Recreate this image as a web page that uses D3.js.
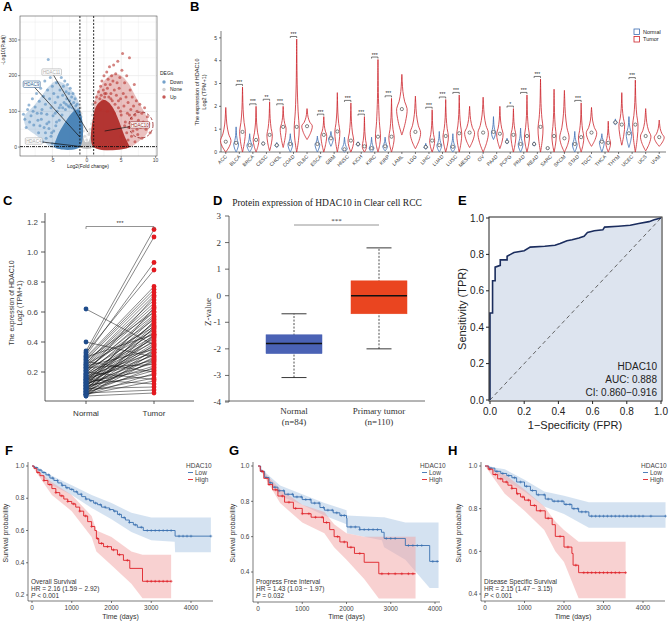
<!DOCTYPE html>
<html>
<head>
<meta charset="utf-8">
<script src="https://d3js.org/d3.v7.min.js"></script>
<style>
  body { margin: 0; background: #fff; }
</style>
</head>
<body>
<script>
// ---------------- data ----------------
// A: volcano (log2FC, -log10 padj)
var volcanoDown = [[-9.2,92],[-9.0,78],[-8.6,105],[-8.4,118],[-8.1,88],[-7.9,135],[-7.7,62],[-7.5,112],[-7.3,150],[-7.2,95],[-7.0,40],[-6.9,128],[-6.7,165],[-6.6,78],[-6.5,105],[-6.3,142],[-6.2,55],[-6.1,185],[-6.0,120],[-5.8,92],[-5.7,160],[-5.6,245],[-5.5,70],[-5.4,135],[-5.3,195],[-5.2,110],[-5.1,40],[-5.0,170],[-4.9,88],[-4.8,150],[-4.7,205],[-4.6,125],[-4.5,60],[-4.4,180],[-4.3,100],[-4.2,140],[-4.1,215],[-4.0,75],[-3.9,160],[-3.8,118],[-3.7,195],[-3.6,90],[-3.5,145],[-3.4,170],[-3.3,125],[-3.2,185],[-3.1,105],[-3.0,155],[-2.9,135],[-2.8,175],[-2.7,115],[-2.6,150],[-2.5,130],[-2.4,165],[-2.3,120],[-2.2,140],[-2.1,110],[-2.0,150],[-1.9,125],[-1.8,105],[-1.7,135],[-1.6,115],[-1.5,100],[-1.4,120],[-1.3,95],[-1.2,105],[-1.1,85],[-5.9,25],[-6.4,15],[-7.4,20],[-8.8,55],[-5.0,10],[-3.5,110],[-4.6,95],[-5.5,52],[-6.8,60],[-8.3,70],[-7.8,100],[-5.2,30],[-4.8,45],[-6.0,40],[-3.0,120],[-2.5,112],[-4.0,110],[-6.6,95],[-7.1,75],[-5.8,65],[-4.4,70]];
var volcanoUp = [[1.2,125],[1.4,140],[1.6,110],[1.7,155],[1.9,135],[2.0,170],[2.1,145],[2.2,185],[2.3,130],[2.4,160],[2.5,200],[2.6,140],[2.7,175],[2.8,150],[2.9,210],[3.0,165],[3.1,190],[3.2,140],[3.3,225],[3.4,175],[3.5,150],[3.6,200],[3.7,130],[3.8,185],[3.9,230],[4.0,160],[4.1,120],[4.2,205],[4.3,145],[4.4,180],[4.5,240],[4.6,110],[4.7,165],[4.8,195],[4.9,135],[5.0,90],[5.1,215],[5.2,262],[5.3,150],[5.4,115],[5.5,180],[5.6,70],[5.7,140],[5.8,200],[5.9,95],[6.0,125],[6.1,55],[6.2,250],[6.3,160],[6.4,105],[6.5,80],[6.6,140],[6.7,45],[6.8,115],[6.9,175],[7.0,90],[7.1,60],[7.2,130],[7.3,100],[7.4,35],[7.5,75],[7.7,120],[7.8,55],[8.0,95],[8.2,70],[8.4,110],[8.6,50],[8.8,85],[9.0,65],[9.2,40],[6.0,20],[5.0,30],[7.0,15],[8.0,25],[3.0,100],[4.0,95],[2.0,105],[6.5,30],[5.5,60],[6.2,90],[4.6,130],[3.5,135],[2.6,150],[5.8,40],[7.3,50],[4.9,100]];
var volcanoNone = [[-0.9,70],[-0.8,85],[-0.7,60],[-0.5,45],[-0.3,30],[0.0,20],[0.3,35],[0.5,50],[0.7,65],[0.8,90],[0.9,75],[-0.95,110],[0.95,105],[-0.6,55],[0.4,40],[0.85,120],[-0.85,95],[0.1,12],[-0.1,10]];
// outlines of the saturated cores and of the lighter halo around them
var coreDown = [[-1,0],[-1,100],[-1.6,104],[-2.2,95],[-2.8,80],[-3.4,62],[-4,42],[-4.4,24],[-4.7,0]];
var coreUp = [[1,0],[1,90],[1.4,115],[2,128],[2.6,132],[3.2,125],[3.8,110],[4.4,86],[5,56],[5.5,30],[6,10],[6.2,0]];
var coreNone = [[-1,0],[-1,55],[-0.6,35],[-0.2,14],[0.2,14],[0.6,35],[1,55],[1,0]];
var haloDown = [[-1,0],[-1,110],[-1.5,140],[-2.5,165],[-3.5,180],[-4.5,185],[-5.5,170],[-6.5,145],[-7.5,120],[-8.5,100],[-9.1,85],[-8.8,55],[-7.5,35],[-6.2,15],[-5.2,0]];
var haloUp = [[1,0],[1,100],[1.3,140],[2,170],[3,195],[4,205],[5,200],[6,180],[7,145],[8,110],[8.9,75],[8.8,40],[7.8,20],[6.8,5],[6.4,0]];
var volcanoLabels = [
  {gene:"HDAC11", grp:"None", lx:-5.1, ly:210, gx:0.15, gy:42},
  {gene:"HDAC9",  grp:"Down", lx:-8.0, ly:176, gx:-1.0, gy:28},
  {gene:"HDAC4",  grp:"None", lx:-7.7, ly:17,  gx:-0.7, gy:1},
  {gene:"HDAC10", grp:"Up",   lx:7.7,  ly:62,  gx:2.6,  gy:45}
];
var volcanoXTicks = [-5, 0, 5, 10];
var volcanoYTicks = [0, 100, 200, 300];
var degGroups = ["Down", "None", "Up"];

// B: pan-cancer violins  [min, mode, max, median, peak]
var cancers = ["ACC","BLCA","BRCA","CESC","CHOL","COAD","DLBC","ESCA","GBM","HNSC","KICH","KIRC","KIRP","LAML","LGG","LIHC","LUAD","LUSC","MESO","OV","PAAD","PCPG","PRAD","READ","SARC","SKCM","STAD","TGCT","THCA","THYM","UCEC","UCS","UVM"];
var tumorViolin = [
  [0.0,0.5,1.95,0.45,1.0],[0.0,0.9,2.85,0.88,0.8],[0.0,0.55,2.0,0.53,0.8],[0.05,0.75,2.2,0.75,0.75],
  [0.2,1.05,2.0,1.1,0.8],[0.0,1.0,4.95,1.1,0.7],[0.55,1.15,1.9,1.13,1.0],[0.0,0.75,1.55,0.75,0.8],
  [0.0,0.9,2.6,0.9,0.7],[0.0,0.5,2.15,0.5,0.8],[0.0,0.25,1.55,0.25,0.6],[0.0,0.65,4.05,0.67,0.7],
  [0.0,0.65,2.35,0.67,0.75],[0.75,1.9,3.4,1.88,1.0],[0.15,0.85,2.45,0.88,1.0],[0.0,0.5,1.85,0.5,0.7],
  [0.0,0.7,2.3,0.7,0.75],[0.0,0.8,2.5,0.82,0.7],[0.2,0.85,2.0,0.85,0.95],[0.0,0.85,2.4,0.85,1.0],
  [0.15,0.8,2.0,0.8,0.9],[0.0,0.75,1.9,0.75,0.7],[0.0,0.7,2.5,0.7,0.7],[0.0,1.05,3.2,1.1,0.7],
  [0.0,0.7,2.75,0.7,0.6],[0.0,0.65,2.7,0.6,0.9],[0.0,0.65,2.15,0.65,0.75],[0.25,0.85,1.95,0.85,1.0],
  [0.0,0.4,1.35,0.4,0.65],[0.3,1.2,2.6,1.2,0.8],[0.0,1.2,3.15,1.2,0.75],[0.05,0.7,1.9,0.7,1.0],
  [0.25,0.65,1.4,0.65,0.95]
];
var normalViolin = [
  null,[0.0,0.35,1.1,0.4,0.7],[0.0,0.3,0.8,0.3,0.8],[0.3,0.37,0.45,0.37,0.5],
  [0.2,0.3,0.42,0.3,0.6],[0.0,0.35,0.8,0.35,0.7],null,[0.0,0.35,0.7,0.35,0.7],
  [0.25,0.6,0.9,0.6,0.7],[0.0,0.15,0.65,0.12,0.8],[0.25,0.35,0.45,0.35,0.6],[0.0,0.17,0.65,0.17,0.7],
  [0.05,0.25,0.65,0.25,0.7],null,null,[0.12,0.22,0.38,0.22,0.6],
  [0.0,0.3,0.9,0.3,0.7],[0.0,0.23,0.8,0.23,0.7],null,null,
  [0.55,0.85,1.55,0.88,0.6],[0.35,0.45,0.6,0.45,0.5],[0.0,0.35,1.05,0.35,0.7],[0.25,0.35,0.45,0.35,0.5],
  [0.12,0.17,0.22,0.17,0.5],null,[0.0,0.35,0.9,0.35,0.7],null,
  [0.0,0.45,0.8,0.45,0.7],[1.2,1.3,1.45,1.3,0.6],[0.2,0.82,1.55,0.82,0.8],null,
  null
];
var cancerSig = ["","***","***","**","***","***","","***","","***","***","***","***","","","***","***","***","","","","*","***","***","","","***","","","","***","",""];
var violinYTicks = [0,1,2,3,4,5];

// C: paired KIRC samples
var pairedNormal = [0.62,0.40,0.34,0.33,0.32,0.31,0.30,0.30,0.29,0.28,0.28,0.27,0.26,0.26,0.25,0.25,0.24,0.24,0.23,0.23,0.22,0.22,0.21,0.21,0.20,0.20,0.19,0.19,0.18,0.18,0.18,0.17,0.17,0.16,0.16,0.16,0.15,0.15,0.15,0.14,0.14,0.14,0.13,0.13,0.13,0.12,0.12,0.12,0.11,0.11,0.11,0.10,0.10,0.10,0.09,0.09,0.09,0.08,0.08,0.08,0.07,0.07,0.07,0.06,0.06,0.06,0.05,0.05,0.05,0.05,0.04,0.04];
var pairedTumor = [0.38,0.30,1.15,0.88,1.10,0.93,0.77,0.45,0.75,0.60,0.73,0.20,0.71,0.68,0.50,0.66,0.35,0.64,0.62,0.25,0.58,0.55,0.48,0.60,0.52,0.15,0.46,0.70,0.44,0.42,0.57,0.40,0.33,0.53,0.37,0.28,0.49,0.31,0.12,0.47,0.36,0.56,0.22,0.43,0.34,0.29,0.51,0.26,0.41,0.18,0.39,0.32,0.63,0.24,0.45,0.27,0.10,0.21,0.38,0.54,0.30,0.16,0.44,0.23,0.35,0.08,0.19,0.50,0.14,0.28,0.06,0.33];
var pairedYTicks = [0.2,0.4,0.6,0.8,1.0,1.2];

// D: CPTAC protein box plot  [whiskerLow, q1, median, q3, whiskerHigh]
var proteinGroups = ["Normal", "Primary tumor"];
var proteinN = ["(n=84)", "(n=110)"];
var proteinBox = [[-3.08,-2.18,-1.8,-1.47,-0.68],[-2.0,-0.68,0.0,0.56,1.8]];
var proteinYTicks = [-4,-3,-2,-1,0,1,2,3];

// E: ROC (FPR, TPR)
var rocPoints = [[0,0],[0,0.478],[0.015,0.478],[0.015,0.655],[0.03,0.655],[0.03,0.73],[0.06,0.74],[0.06,0.77],[0.1,0.77],[0.1,0.79],[0.12,0.8],[0.14,0.81],[0.2,0.82],[0.235,0.84],[0.32,0.845],[0.38,0.85],[0.41,0.86],[0.45,0.875],[0.48,0.88],[0.52,0.89],[0.55,0.9],[0.57,0.92],[0.61,0.93],[0.66,0.935],[0.67,0.95],[0.75,0.955],[0.82,0.96],[0.87,0.97],[0.93,0.98],[0.96,0.99],[1,1]];
var rocTicks = [0,0.2,0.4,0.6,0.8,1.0];

// F-H: Kaplan-Meier  [time, survival], CI [time, lower, upper]
var kmTimeTicks = [0,1000,2000,3000,4000];
var fLow = [[0,1],[60,0.99],[150,0.975],[250,0.96],[350,0.945],[450,0.925],[550,0.91],[650,0.895],[750,0.88],[850,0.865],[950,0.855],[1050,0.84],[1150,0.825],[1250,0.81],[1350,0.795],[1450,0.785],[1550,0.77],[1650,0.76],[1750,0.745],[1850,0.74],[1950,0.73],[2050,0.72],[2150,0.70],[2250,0.68],[2350,0.665],[2450,0.65],[2550,0.635],[2650,0.62],[2800,0.60],[3600,0.565],[4500,0.565]];
var fHigh = [[0,1],[50,0.985],[120,0.96],[200,0.94],[300,0.91],[400,0.885],[500,0.86],[600,0.835],[700,0.815],[800,0.795],[900,0.78],[1000,0.765],[1100,0.745],[1200,0.72],[1300,0.69],[1400,0.655],[1500,0.625],[1580,0.60],[1620,0.55],[1680,0.52],[1800,0.50],[2000,0.48],[2150,0.45],[2300,0.415],[2460,0.365],[2780,0.285],[3500,0.285]];
var fLowCI = [[0,1,1],[500,0.88,0.94],[1000,0.82,0.88],[1500,0.74,0.82],[2000,0.67,0.77],[2500,0.59,0.71],[3000,0.54,0.68],[3590,0.53,0.68],[3600,0.465,0.68],[4500,0.465,0.68]];
var fHighCI = [[0,1,1],[500,0.82,0.90],[1000,0.72,0.82],[1500,0.56,0.69],[1620,0.47,0.60],[2000,0.385,0.56],[2500,0.27,0.47],[2780,0.18,0.45],[3500,0.18,0.45]];
var fLowCens = [100,200,300,420,520,640,760,880,1000,1120,1240,1360,1480,1600,1720,1840,1960,2080,2200,2320,2450,2600,2750,2900,3000,3100,3200,3300,3400,3500,3700,3800,3900,4000,4500];
var fHighCens = [150,300,450,600,750,900,1050,1200,1350,1500,1650,1750,1900,2050,2200,2400,2900,3000,3100,3200,3300,3400,3500];

var gLow = [[0,1],[60,0.97],[150,0.935],[250,0.905],[330,0.88],[450,0.86],[600,0.84],[800,0.825],[1000,0.81],[1200,0.79],[1400,0.765],[1500,0.75],[1700,0.735],[1850,0.72],[2000,0.705],[2010,0.655],[2300,0.64],[2790,0.625],[2850,0.59],[3330,0.55],[3880,0.46],[4080,0.46]];
var gHigh = [[0,1],[50,0.97],[130,0.93],[230,0.895],[330,0.865],[450,0.83],[600,0.795],[800,0.76],[1000,0.73],[1200,0.71],[1480,0.68],[1620,0.64],[1720,0.60],[1850,0.57],[2020,0.54],[2180,0.505],[2400,0.455],[2730,0.39],[3560,0.39]];
var gLowCI = [[0,1,1],[500,0.83,0.89],[1000,0.78,0.84],[1500,0.72,0.79],[2000,0.67,0.75],[2010,0.62,0.72],[2800,0.58,0.71],[2850,0.54,0.71],[3330,0.47,0.68],[3880,0.31,0.68],[4080,0.31,0.68]];
var gHighCI = [[0,1,1],[500,0.79,0.87],[1000,0.68,0.78],[1500,0.62,0.74],[1720,0.54,0.67],[2000,0.47,0.62],[2400,0.36,0.60],[2730,0.25,0.60],[3560,0.25,0.60]];
var gLowCens = [80,180,280,380,480,580,680,780,880,980,1080,1180,1280,1380,1480,1580,1680,1780,1880,1950,2100,2200,2300,2400,2500,2600,2700,2900,3000,3100,3400,3500,3600,3700,3950,4050];
var gHighCens = [100,250,400,550,700,850,1000,1150,1300,1450,1550,1800,1950,2100,2300,2800,2950,3100,3250,3400,3500];

var hLow = [[0,1],[100,0.99],[250,0.975],[400,0.965],[550,0.955],[680,0.945],[800,0.925],[1000,0.905],[1150,0.885],[1300,0.865],[1525,0.845],[1700,0.835],[2000,0.82],[2200,0.80],[2370,0.785],[2630,0.765],[4570,0.765]];
var hHigh = [[0,1],[80,0.985],[200,0.96],[320,0.94],[450,0.925],[580,0.91],[680,0.895],[800,0.87],[900,0.855],[1000,0.84],[1150,0.815],[1300,0.79],[1525,0.755],[1700,0.725],[1780,0.67],[2000,0.62],[2200,0.59],[2230,0.535],[2370,0.5],[3560,0.5]];
var hLowCI = [[0,1,1],[500,0.935,0.985],[1000,0.88,0.935],[1500,0.81,0.88],[2000,0.775,0.86],[2630,0.71,0.83],[4570,0.71,0.83]];
var hHighCI = [[0,1,1],[500,0.87,0.96],[1000,0.79,0.89],[1500,0.70,0.81],[1780,0.60,0.74],[2000,0.55,0.70],[2370,0.38,0.645],[3560,0.38,0.645]];
var hLowCens = [150,300,450,600,750,900,1050,1200,1350,1500,1600,1750,1850,1950,2050,2150,2250,2350,2450,2550,2700,2800,2900,3000,3100,3200,3300,3400,3500,3600,3700,3800,3900,4000,4200,4570];
var hHighCens = [120,260,400,540,680,820,960,1100,1250,1400,1600,1900,2100,2300,2500,2600,2700,2800,2900,3000,3100,3200,3300,3400,3560];

// ---------------- drawing ----------------
var SANS = "'Liberation Sans', Arial, sans-serif";
var SERIF = "'Liberation Serif', 'Times New Roman', serif";

var svg = d3.select("body").append("svg")
    .attr("width", 669).attr("height", 622)
    .style("font-family", SANS);

function letter(t, x, y) {
    svg.append("text").attr("x", x).attr("y", y).text(t)
        .style("font-weight", "bold").style("font-size", "13px");
}
letter("A", 3, 11); letter("B", 190, 11); letter("C", 3, 205); letter("D", 213, 205);
letter("E", 458, 205); letter("F", 5, 455); letter("G", 229, 455); letter("H", 448, 455);

// ===== A: volcano =====
var ax = d3.scaleLinear().domain([-9.7, 10.2]).range([20, 157]);
var ay = d3.scaleLinear().domain([-25, 367]).range([156, 16]);
var gA = svg.append("g");
var degColor = {Down: "#5089bd", None: "#c4c4c4", Up: "#b8302c"};
var coreColor = {Down: "#3e7bb3", None: "#bdbdbd", Up: "#ad2622"};

gA.append("rect").attr("x", 20).attr("y", 16).attr("width", 137).attr("height", 140).attr("fill", "#fff");
[-7.5, -2.5, 2.5, 7.5].concat(volcanoXTicks).forEach(function(v) {
    gA.append("line").attr("x1", ax(v)).attr("x2", ax(v)).attr("y1", 16).attr("y2", 156)
        .attr("stroke", "#ebebeb").attr("stroke-width", volcanoXTicks.indexOf(v) >= 0 ? 0.8 : 0.4);
});
[50, 150, 250, 350].concat(volcanoYTicks).forEach(function(v) {
    gA.append("line").attr("y1", ay(v)).attr("y2", ay(v)).attr("x1", 20).attr("x2", 157)
        .attr("stroke", "#ebebeb").attr("stroke-width", volcanoYTicks.indexOf(v) >= 0 ? 0.8 : 0.4);
});

var coreLine = d3.line().x(function(d) { return ax(d[0]); }).y(function(d) { return ay(d[1]); })
    .curve(d3.curveCatmullRomClosed);
gA.append("path").attr("d", coreLine(haloDown)).attr("fill", degColor.Down).attr("opacity", 0.3);
gA.append("path").attr("d", coreLine(haloUp)).attr("fill", degColor.Up).attr("opacity", 0.3);
[["None", coreNone, volcanoNone], ["Down", coreDown, volcanoDown], ["Up", coreUp, volcanoUp]].forEach(function(g) {
    gA.append("path").attr("d", coreLine(g[1])).attr("fill", coreColor[g[0]]).attr("opacity", 0.9);
    gA.selectAll(null).data(g[2]).enter().append("circle")
        .attr("cx", function(d) { return ax(d[0]); })
        .attr("cy", function(d) { return ay(d[1]); })
        .attr("r", 1.5).attr("fill", degColor[g[0]]).attr("fill-opacity", 0.6);
});

// threshold lines
[-1, 1].forEach(function(v) {
    gA.append("line").attr("x1", ax(v)).attr("x2", ax(v)).attr("y1", 16).attr("y2", 156)
        .attr("stroke", "#111").attr("stroke-width", 0.9).attr("stroke-dasharray", "2,1.5");
});
gA.append("line").attr("x1", 20).attr("x2", 157).attr("y1", ay(1.3)).attr("y2", ay(1.3))
    .attr("stroke", "#111").attr("stroke-width", 0.9).attr("stroke-dasharray", "3,1,1,1");

// gene labels
var labelStroke = {Down: "#2d5e91", None: "#aaaaaa", Up: "#8e1b1b"};
volcanoLabels.forEach(function(l) {
    gA.append("line").attr("x1", ax(l.lx)).attr("y1", ay(l.ly)).attr("x2", ax(l.gx)).attr("y2", ay(l.gy))
        .attr("stroke", "#111").attr("stroke-width", 0.7);
});
volcanoLabels.forEach(function(l) {
    var w = l.gene.length * 2.6 + 4;
    gA.append("rect").attr("x", ax(l.lx) - w / 2).attr("y", ay(l.ly) - 3.2).attr("width", w).attr("height", 6.4)
        .attr("rx", 1).attr("fill", "#fff").attr("stroke", labelStroke[l.grp]).attr("stroke-width", 0.6);
    gA.append("text").attr("x", ax(l.lx)).attr("y", ay(l.ly) + 1.6).attr("text-anchor", "middle")
        .style("font-size", "4.5px").attr("fill", labelStroke[l.grp]).text(l.gene);
});
gA.append("ellipse").attr("cx", 141).attr("cy", 125).attr("rx", 12).attr("ry", 13)
    .attr("fill", "none").attr("stroke", "#8e1b1b").attr("stroke-width", 0.8).attr("stroke-dasharray", "3,2");

gA.append("rect").attr("x", 20).attr("y", 16).attr("width", 137).attr("height", 140)
    .attr("fill", "none").attr("stroke", "#333").attr("stroke-width", 0.5);

volcanoXTicks.forEach(function(v) {
    gA.append("line").attr("x1", ax(v)).attr("x2", ax(v)).attr("y1", 156).attr("y2", 158).attr("stroke", "#333").attr("stroke-width", 0.5);
    gA.append("text").attr("x", ax(v)).attr("y", 162).attr("text-anchor", "middle").style("font-size", "5px").attr("fill", "#444").text(v);
});
volcanoYTicks.forEach(function(v) {
    gA.append("line").attr("x1", 18).attr("x2", 20).attr("y1", ay(v)).attr("y2", ay(v)).attr("stroke", "#333").attr("stroke-width", 0.5);
    gA.append("text").attr("x", 17).attr("y", ay(v) + 1.7).attr("text-anchor", "end").style("font-size", "5px").attr("fill", "#444").text(v);
});
gA.append("text").attr("x", 88).attr("y", 168).attr("text-anchor", "middle").style("font-size", "5px").attr("fill", "#222").text("Log2(Fold change)");
gA.append("text").attr("transform", "translate(5,50) rotate(-90)").attr("text-anchor", "middle").style("font-size", "5px").attr("fill", "#222").text("-Log10(P.adj)");
gA.append("text").attr("x", 160).attr("y", 75).style("font-size", "5px").attr("fill", "#222").text("DEGs");
degGroups.forEach(function(g, i) {
    var yy = 82 + i * 7.5;
    gA.append("circle").attr("cx", 164).attr("cy", yy).attr("r", 1.7).attr("fill", degColor[g]).attr("fill-opacity", 0.8);
    gA.append("text").attr("x", 170).attr("y", yy + 1.7).style("font-size", "5px").attr("fill", "#222").text(g);
});

// ===== B: violins =====
var bx = d3.scaleBand().domain(cancers).range([219, 666]);
var by = d3.scaleLinear().domain([0, 5.3]).range([152, 31]);
var gB = svg.append("g");
gB.append("line").attr("x1", 221).attr("x2", 221).attr("y1", 31).attr("y2", 152).attr("stroke", "#222").attr("stroke-width", 0.6);
gB.append("line").attr("x1", 221).attr("x2", 666).attr("y1", 152).attr("y2", 152).attr("stroke", "#222").attr("stroke-width", 0.6);
violinYTicks.forEach(function(v) {
    gB.append("line").attr("x1", 219).attr("x2", 221).attr("y1", by(v)).attr("y2", by(v)).attr("stroke", "#222").attr("stroke-width", 0.6);
    gB.append("text").attr("x", 217).attr("y", by(v) + 1.8).attr("text-anchor", "end").style("font-size", "5px").attr("fill", "#333").text(v);
});
gB.append("text").attr("transform", "translate(199,92) rotate(-90)").attr("text-anchor", "middle").style("font-size", "5.5px").attr("fill", "#222").text("The expression of HDAC10");
gB.append("text").attr("transform", "translate(206,92) rotate(-90)").attr("text-anchor", "middle").style("font-size", "5.5px").attr("fill", "#222").text("Log2 (TPM+1)");

function violinProfile(v) {
    var mn = v[0], mo = v[1], mx = v[2];
    return [[mn, 0.02], [mn + (mo - mn) * 0.5, 0.7], [mo, 1], [mo + (mx - mo) * 0.2, 0.55],
            [mo + (mx - mo) * 0.5, 0.2], [mo + (mx - mo) * 0.8, 0.07], [mx, 0]];
}
function drawViolin(v, cx, hw, col) {
    var area = d3.area()
        .y(function(d) { return by(d[0]); })
        .x0(function(d) { return cx - d[1] * hw * v[4]; })
        .x1(function(d) { return cx + d[1] * hw * v[4]; })
        .curve(d3.curveCatmullRom);
    gB.append("path").attr("d", area(violinProfile(v))).attr("fill", "#fff")
        .attr("stroke", col).attr("stroke-width", 0.8);
    gB.append("circle").attr("cx", cx).attr("cy", by(v[3])).attr("r", 1.6)
        .attr("fill", "#fff").attr("stroke", "#333").attr("stroke-width", 0.6);
}
var tumorCol = "#cc2229", normalCol = "#3b6cb2";
cancers.forEach(function(c, i) {
    var cx = bx(c) + bx.bandwidth() / 2;
    var nv = normalViolin[i], tv = tumorViolin[i];
    if (nv) {
        drawViolin(nv, cx - 3.2, 3.4, normalCol);
        drawViolin(tv, cx + 3.2, 3.6, tumorCol);
    } else {
        drawViolin(tv, cx, 5.2, tumorCol);
    }
    gB.append("line").attr("x1", cx).attr("x2", cx).attr("y1", 152).attr("y2", 154).attr("stroke", "#222").attr("stroke-width", 0.6);
    gB.append("text").attr("transform", "translate(" + (cx + 1.5) + ",157) rotate(-45)").attr("text-anchor", "end")
        .style("font-size", "5px").attr("fill", "#333").text(c);
    if (cancerSig[i]) {
        var top = Math.max(tv[2], nv ? nv[2] : 0);
        var yb = by(top) - 2.5;
        gB.append("path").attr("d", "M" + (cx - 3.2) + "," + (yb + 1.5) + "V" + yb + "H" + (cx + 3.2) + "V" + (yb + 1.5))
            .attr("fill", "none").attr("stroke", "#222").attr("stroke-width", 0.6);
        gB.append("text").attr("x", cx).attr("y", yb - 0.5).attr("text-anchor", "middle").style("font-size", "5px").attr("fill", "#222").text(cancerSig[i]);
    }
});
[["Normal", normalCol], ["Tumor", tumorCol]].forEach(function(l, i) {
    var yy = 29 + i * 7.5;
    gB.append("rect").attr("x", 634).attr("y", yy).attr("width", 5.5).attr("height", 5.5).attr("fill", "#fff").attr("stroke", l[1]).attr("stroke-width", 0.8);
    gB.append("text").attr("x", 643).attr("y", yy + 4.8).style("font-size", "5.5px").attr("fill", "#222").text(l[0]);
});

// ===== C: paired =====
var cx0 = d3.scalePoint().domain(["Normal", "Tumor"]).range([86, 154]);
var cy0 = d3.scaleLinear().domain([0, 1.2]).range([402, 222]);
var gC = svg.append("g");
gC.append("line").attr("x1", 45).attr("x2", 45).attr("y1", 213).attr("y2", 401).attr("stroke", "#333").attr("stroke-width", 0.8);
gC.append("line").attr("x1", 45).attr("x2", 194).attr("y1", 401).attr("y2", 401).attr("stroke", "#333").attr("stroke-width", 0.8);
pairedYTicks.forEach(function(v) {
    gC.append("line").attr("x1", 41).attr("x2", 45).attr("y1", cy0(v)).attr("y2", cy0(v)).attr("stroke", "#333").attr("stroke-width", 0.8);
    gC.append("text").attr("x", 38).attr("y", cy0(v) + 2.8).attr("text-anchor", "end").style("font-size", "8px").attr("fill", "#444").text(v.toFixed(1));
});
["Normal", "Tumor"].forEach(function(g) {
    gC.append("line").attr("x1", cx0(g)).attr("x2", cx0(g)).attr("y1", 401).attr("y2", 404).attr("stroke", "#333").attr("stroke-width", 0.8);
    gC.append("text").attr("x", cx0(g)).attr("y", 416).attr("text-anchor", "middle").style("font-size", "8px").attr("fill", "#333").text(g);
});
gC.append("text").attr("transform", "translate(14,303) rotate(-90)").attr("text-anchor", "middle").style("font-size", "7px").attr("fill", "#333").text("The expression of HDAC10");
gC.append("text").attr("transform", "translate(22,303) rotate(-90)").attr("text-anchor", "middle").style("font-size", "7px").attr("fill", "#333").text("Log2 (TPM+1)");
pairedNormal.forEach(function(v, i) {
    gC.append("line").attr("x1", cx0("Normal")).attr("y1", cy0(v)).attr("x2", cx0("Tumor")).attr("y2", cy0(pairedTumor[i]))
        .attr("stroke", "#111").attr("stroke-width", 0.5);
});
gC.selectAll(null).data(pairedNormal).enter().append("circle")
    .attr("cx", cx0("Normal")).attr("cy", function(d) { return cy0(d); }).attr("r", 2.4).attr("fill", "#1f4c8b");
gC.selectAll(null).data(pairedTumor).enter().append("circle")
    .attr("cx", cx0("Tumor")).attr("cy", function(d) { return cy0(d); }).attr("r", 2.4).attr("fill", "#e3191f");
gC.append("path").attr("d", "M86,229V226.5H154V229").attr("fill", "none").attr("stroke", "#666").attr("stroke-width", 0.7);
gC.append("text").attr("x", 120).attr("y", 224.5).attr("text-anchor", "middle").style("font-size", "6px").attr("fill", "#333").text("***");

// ===== D: protein box =====
var dx = d3.scalePoint().domain(proteinGroups).range([294, 379]);
var dy = d3.scaleLinear().domain([-4, 3]).range([402, 216]);
var gD = svg.append("g").style("font-family", SERIF);
gD.append("text").attr("x", 327).attr("y", 206).attr("text-anchor", "middle").style("font-size", "9.5px").attr("fill", "#222")
    .text("Protein expression of HDAC10 in Clear cell RCC");
gD.append("line").attr("x1", 229).attr("x2", 229).attr("y1", 216).attr("y2", 402).attr("stroke", "#444").attr("stroke-width", 0.8);
gD.append("line").attr("x1", 225).attr("x2", 425).attr("y1", 401).attr("y2", 401).attr("stroke", "#444").attr("stroke-width", 0.8);
proteinYTicks.forEach(function(v) {
    gD.append("line").attr("x1", 225).attr("x2", 229).attr("y1", dy(v)).attr("y2", dy(v)).attr("stroke", "#444").attr("stroke-width", 0.8);
    gD.append("text").attr("x", 221).attr("y", dy(v) + 3).attr("text-anchor", "end").style("font-size", "9px").attr("fill", "#333").text(v);
});
gD.append("text").attr("transform", "translate(211,312) rotate(-90)").attr("text-anchor", "middle").style("font-size", "9px").attr("fill", "#333").text("Z-value");
var boxFill = ["#4a62b5", "#ea4520"];
proteinGroups.forEach(function(g, i) {
    var b = proteinBox[i], c = dx(g);
    gD.append("line").attr("x1", c).attr("x2", c).attr("y1", dy(b[0])).attr("y2", dy(b[4]))
        .attr("stroke", "#222").attr("stroke-width", 0.8).attr("stroke-dasharray", "2,1.5");
    [b[0], b[4]].forEach(function(w) {
        gD.append("line").attr("x1", c - 12.5).attr("x2", c + 12.5).attr("y1", dy(w)).attr("y2", dy(w)).attr("stroke", "#222").attr("stroke-width", 0.9);
    });
    gD.append("rect").attr("x", c - 28).attr("y", dy(b[3])).attr("width", 56).attr("height", dy(b[1]) - dy(b[3]))
        .attr("fill", boxFill[i]).attr("stroke", boxFill[i]).attr("stroke-width", 0.5);
    gD.append("line").attr("x1", c - 28).attr("x2", c + 28).attr("y1", dy(b[2])).attr("y2", dy(b[2])).attr("stroke", "#111").attr("stroke-width", 1.6);
    gD.append("text").attr("x", c).attr("y", 414).attr("text-anchor", "middle").style("font-size", "9px").attr("fill", "#333").text(g);
    gD.append("text").attr("x", c).attr("y", 425).attr("text-anchor", "middle").style("font-size", "9px").attr("fill", "#333").text(proteinN[i]);
});
gD.append("line").attr("x1", dx("Normal")).attr("x2", dx("Primary tumor")).attr("y1", 225).attr("y2", 225).attr("stroke", "#888").attr("stroke-width", 0.9);
gD.append("text").attr("x", (dx("Normal") + dx("Primary tumor")) / 2).attr("y", 223).attr("text-anchor", "middle").style("font-size", "7px").attr("fill", "#333").text("***");

// ===== E: ROC =====
var ex = d3.scaleLinear().domain([0, 1]).range([490, 661]);
var ey = d3.scaleLinear().domain([0, 1]).range([400, 218]);
var gE = svg.append("g");
gE.append("path").attr("d", d3.area().x(function(d) { return ex(d[0]); }).y0(ey(0)).y1(function(d) { return ey(d[1]); })(rocPoints))
    .attr("fill", "#dde4ef");
gE.append("line").attr("x1", ex(0)).attr("y1", ey(0)).attr("x2", ex(1)).attr("y2", ey(1))
    .attr("stroke", "#555").attr("stroke-width", 0.9).attr("stroke-dasharray", "4,3");
gE.append("path").attr("d", d3.line().x(function(d) { return ex(d[0]); }).y(function(d) { return ey(d[1]); })(rocPoints))
    .attr("fill", "none").attr("stroke", "#1b2d5e").attr("stroke-width", 1.6);
gE.append("rect").attr("x", 489).attr("y", 217).attr("width", 173).attr("height", 184)
    .attr("fill", "none").attr("stroke", "#222").attr("stroke-width", 1);
rocTicks.forEach(function(v) {
    gE.append("line").attr("x1", 486).attr("x2", 489).attr("y1", ey(v)).attr("y2", ey(v)).attr("stroke", "#222");
    gE.append("text").attr("x", 484).attr("y", ey(v) + 3.5).attr("text-anchor", "end").style("font-size", "10px").attr("fill", "#222").text(v.toFixed(1));
    gE.append("line").attr("x1", ex(v)).attr("x2", ex(v)).attr("y1", 401).attr("y2", 404).attr("stroke", "#222");
    gE.append("text").attr("x", ex(v)).attr("y", 415).attr("text-anchor", "middle").style("font-size", "10px").attr("fill", "#222").text(v.toFixed(1));
});
gE.append("text").attr("x", 575).attr("y", 429).attr("text-anchor", "middle").style("font-size", "11px").attr("fill", "#222").text("1\u2212Specificity (FPR)");
gE.append("text").attr("transform", "translate(466,309) rotate(-90)").attr("text-anchor", "middle").style("font-size", "11px").attr("fill", "#222").text("Sensitivity (TPR)");
["HDAC10", "AUC: 0.888", "CI: 0.860\u22120.916"].forEach(function(t, i) {
    gE.append("text").attr("x", 657).attr("y", 370 + i * 13).attr("text-anchor", "end").style("font-size", "10px").attr("fill", "#222").text(t);
});

// ===== F-H: Kaplan-Meier =====
function survAt(curve, t) {
    var s = curve[0][1];
    curve.forEach(function(p) { if (p[0] <= t) s = p[1]; });
    return s;
}
function drawKM(o) {
    var g = svg.append("g");
    var x = d3.scaleLinear().domain([0, 4000]).range(o.xr);
    var y = d3.scaleLinear().domain(o.yd).range(o.yr);
    var band = d3.area().x(function(d) { return x(d[0]); }).y0(function(d) { return y(d[1]); }).y1(function(d) { return y(d[2]); });
    var step = d3.line().x(function(d) { return x(d[0]); }).y(function(d) { return y(d[1]); }).curve(d3.curveStepAfter);
    g.append("path").attr("d", band(o.lowCI)).attr("fill", "#a9c6e4").attr("fill-opacity", 0.5);
    g.append("path").attr("d", band(o.highCI)).attr("fill", "#f2a3a3").attr("fill-opacity", 0.5);
    [[o.low, o.lowCens, "#3a70b0"], [o.high, o.highCens, "#df2027"]].forEach(function(s) {
        g.append("path").attr("d", step(s[0])).attr("fill", "none").attr("stroke", s[2]).attr("stroke-width", 0.9);
        g.selectAll(null).data(s[1]).enter().append("path")
            .attr("transform", function(t) { return "translate(" + x(t) + "," + y(survAt(s[0], t)) + ")"; })
            .attr("d", "M-1.4,0H1.4M0,-1.4V1.4").attr("stroke", s[2]).attr("stroke-width", 0.6);
    });
    g.append("line").attr("x1", o.ax).attr("x2", o.ax).attr("y1", 462).attr("y2", o.base).attr("stroke", "#222").attr("stroke-width", 0.6);
    g.append("line").attr("x1", o.ax).attr("x2", o.xend).attr("y1", o.base).attr("y2", o.base).attr("stroke", "#222").attr("stroke-width", 0.6);
    o.yticks.forEach(function(v) {
        g.append("line").attr("x1", o.ax - 2).attr("x2", o.ax).attr("y1", y(v)).attr("y2", y(v)).attr("stroke", "#222").attr("stroke-width", 0.6);
        g.append("text").attr("x", o.ax - 3.5).attr("y", y(v) + 2.2).attr("text-anchor", "end").style("font-size", "6.5px").attr("fill", "#444").text(v.toFixed(1));
    });
    kmTimeTicks.forEach(function(v) {
        g.append("line").attr("x1", x(v)).attr("x2", x(v)).attr("y1", o.base).attr("y2", o.base + 2).attr("stroke", "#222").attr("stroke-width", 0.6);
        g.append("text").attr("x", x(v)).attr("y", o.base + 9).attr("text-anchor", "middle").style("font-size", "6.5px").attr("fill", "#444").text(v);
    });
    g.append("text").attr("x", (o.ax + o.xend) / 2).attr("y", 619).attr("text-anchor", "middle").style("font-size", "7px").attr("fill", "#333").text("Time (days)");
    g.append("text").attr("transform", "translate(" + o.ylx + ",533) rotate(-90)").attr("text-anchor", "middle").style("font-size", "7px").attr("fill", "#333").text("Survival probability");
    g.append("text").attr("x", o.ax + 3).attr("y", 584).style("font-size", "6.5px").attr("fill", "#333").text(o.title);
    g.append("text").attr("x", o.ax + 3).attr("y", 591).style("font-size", "6.5px").attr("fill", "#333").text(o.hr);
    var pt = g.append("text").attr("x", o.ax + 3).attr("y", 598).style("font-size", "6.5px").attr("fill", "#333");
    pt.append("tspan").style("font-style", "italic").text("P");
    pt.append("tspan").text(o.p);
    g.append("text").attr("x", o.lgx).attr("y", 468).style("font-size", "6.5px").attr("fill", "#444").text("HDAC10");
    [["Low", "#3a70b0"], ["High", "#df2027"]].forEach(function(l, i) {
        var yy = 474.5 + i * 7;
        g.append("line").attr("x1", o.lgx + 2).attr("x2", o.lgx + 7).attr("y1", yy - 2).attr("y2", yy - 2).attr("stroke", l[1]).attr("stroke-width", 0.9);
        g.append("text").attr("x", o.lgx + 9).attr("y", yy).style("font-size", "6.5px").attr("fill", "#444").text(l[0]);
    });
}
drawKM({xr: [32, 191], yd: [0.2, 1], yr: [595, 466], ax: 28, xend: 213, base: 601, ylx: 8, lgx: 186,
        low: fLow, high: fHigh, lowCI: fLowCI, highCI: fHighCI, lowCens: fLowCens, highCens: fHighCens,
        yticks: [0.2, 0.4, 0.6, 0.8, 1.0], title: "Overall Survival", hr: "HR = 2.16 (1.59 \u2212 2.92)", p: " < 0.001"});
drawKM({xr: [258, 435], yd: [0.4, 1], yr: [572, 466], ax: 253, xend: 440, base: 602, ylx: 235, lgx: 420,
        low: gLow, high: gHigh, lowCI: gLowCI, highCI: gHighCI, lowCens: gLowCens, highCens: gHighCens,
        yticks: [0.4, 0.6, 0.8, 1.0], title: "Progress Free Interval", hr: "HR = 1.43 (1.03 \u2212 1.97)", p: " = 0.032"});
drawKM({xr: [485, 643], yd: [0.4, 1], yr: [594, 466], ax: 481, xend: 665, base: 601, ylx: 461, lgx: 641,
        low: hLow, high: hHigh, lowCI: hLowCI, highCI: hHighCI, lowCens: hLowCens, highCens: hHighCens,
        yticks: [0.4, 0.6, 0.8, 1.0], title: "Disease Specific Survival", hr: "HR = 2.15 (1.47 \u2212 3.15)", p: " < 0.001"});
</script>
</body>
</html>
